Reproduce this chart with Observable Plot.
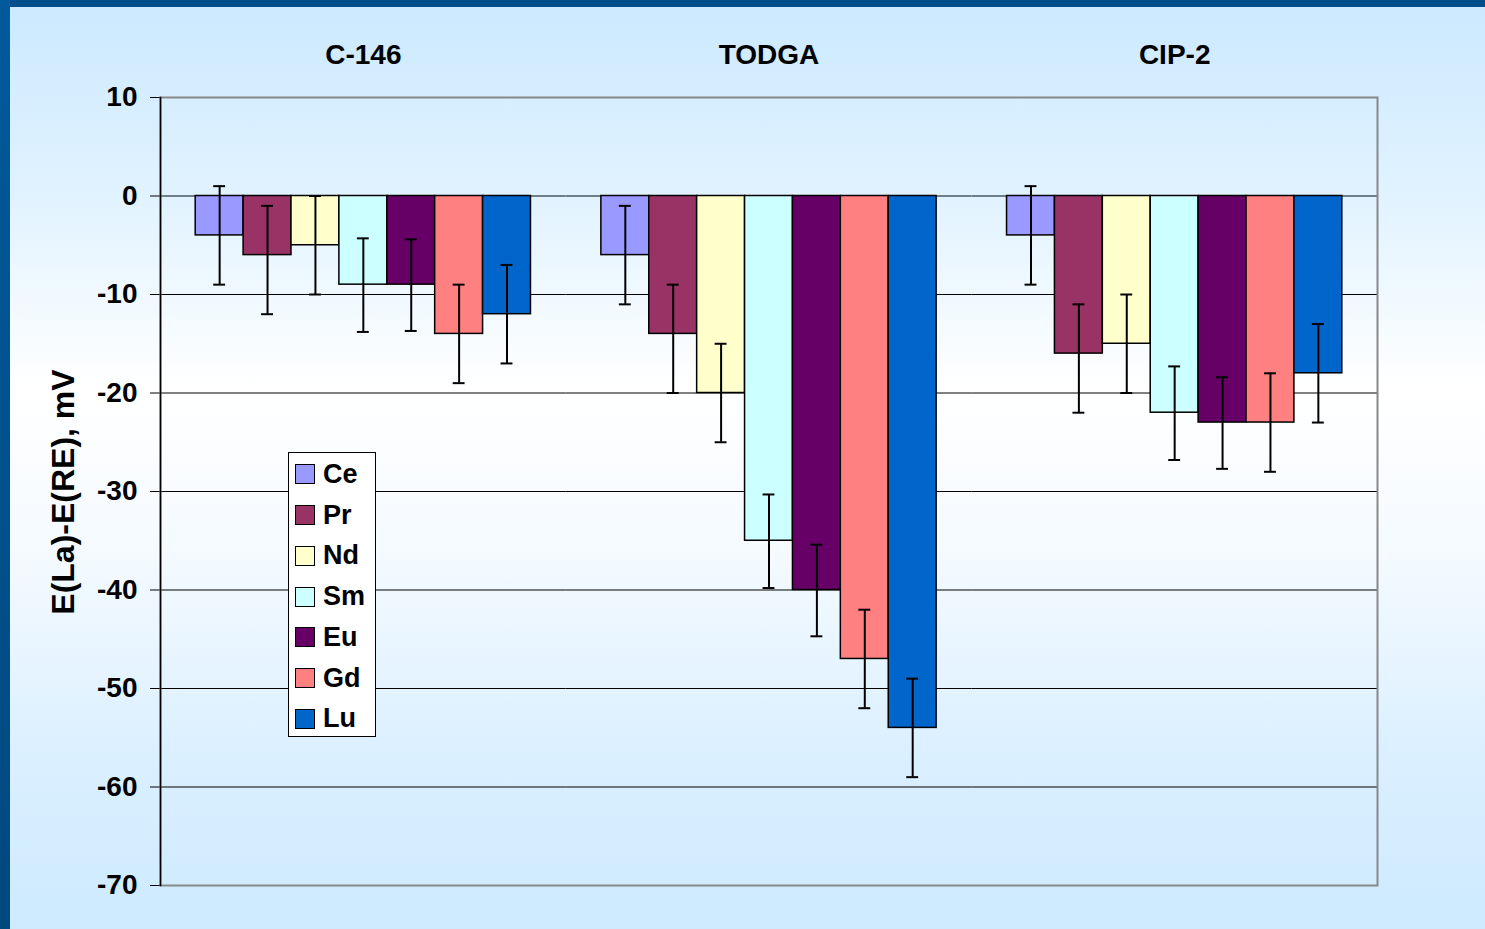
<!DOCTYPE html>
<html><head><meta charset="utf-8">
<script src="https://cdn.jsdelivr.net/npm/d3@7"></script>
<script src="https://cdn.jsdelivr.net/npm/@observablehq/plot@0.6"></script>
<style>
html,body{margin:0;padding:0;}
body{width:1485px;height:929px;overflow:hidden;position:relative;
 background:linear-gradient(to bottom,#cbe9ff 0%,#e2f3ff 22%,#ffffff 42%,#f4faff 60%,#dcf0ff 80%,#cdeaff 100%);
 font-family:"Liberation Sans",Arial,sans-serif;}
#topbar{position:absolute;left:0;top:0;width:1485px;height:7px;background:#004f8a;z-index:3;}
#leftbar{position:absolute;left:0;top:0;width:10px;height:929px;background:linear-gradient(to bottom,#005a9b,#00497f);z-index:3;}
#chart{position:absolute;left:0;top:0;}
#ylabel{position:absolute;left:63px;top:492px;transform:translate(-50%,-50%) rotate(-90deg);font-size:32px;font-weight:bold;white-space:nowrap;color:#000;}
#legend{position:absolute;left:288px;top:452px;width:86px;height:282px;border:1px solid #000;background:#fff;padding-top:1px;box-sizing:content-box;}
#legend .item{height:40.75px;display:flex;align-items:center;font-size:27px;font-weight:bold;color:#000;}
#legend .sw{width:20px;height:20px;box-sizing:border-box;border:1.5px solid #000;margin-left:6px;margin-right:8px;}
</style>
</head><body>
<div id="topbar"></div><div id="leftbar"></div>
<div id="chart"></div>
<div id="ylabel"></div>
<div id="legend"></div>
<script>
const groups = ["C-146", "TODGA", "CIP-2"];
const elements = ["Ce", "Pr", "Nd", "Sm", "Eu", "Gd", "Lu"];
const colors = ["#9999ff", "#993366", "#ffffcc", "#ccffff", "#660066", "#ff8080", "#0066cc"];

const c146 = [-4, -6, -5, -9, -9, -14, -12];
const c146Hi = [1, -1, 0, -4.3, -4.4, -9, -7];
const c146Lo = [-9, -12, -10, -13.8, -13.7, -19, -17];

const todga = [-6, -14, -20, -35, -40, -47, -54];
const todgaHi = [-1, -9, -15, -30.3, -35.4, -42, -49];
const todgaLo = [-11, -20, -25, -39.8, -44.7, -52, -59];

const cip2 = [-4, -16, -15, -22, -23, -23, -18];
const cip2Hi = [1, -11, -10, -17.3, -18.4, -18, -13];
const cip2Lo = [-9, -22, -20, -26.8, -27.7, -28, -23];

const yTicks = [10, 0, -10, -20, -30, -40, -50, -60, -70];
const gridLines = [-10, -20, -30, -40, -50, -60];
const yLabel = "E(La)-E(RE), mV";

const seriesByGroup = {
  "C-146": [c146, c146Hi, c146Lo],
  "TODGA": [todga, todgaHi, todgaLo],
  "CIP-2": [cip2, cip2Hi, cip2Lo]
};
const rows = groups.flatMap(g => elements.map((e, i) => ({
  group: g, element: e,
  value: seriesByGroup[g][0][i], hi: seriesByGroup[g][1][i], lo: seriesByGroup[g][2][i]
})));

const chart = Plot.plot({
  width: 1485, height: 929,
  marginLeft: 160, marginRight: 108, marginTop: 97, marginBottom: 44,
  style: {background: "transparent", fontFamily: "Liberation Sans, Arial, sans-serif", fontWeight: "bold", fontSize: "28px", color: "#000", overflow: "visible"},
  fx: {domain: groups, padding: 0, round: false, label: null, axis: "top", tickSize: 0, tickPadding: 34},
  x: {domain: elements, paddingInner: 0, paddingOuter: 0.735, round: false, axis: null},
  y: {domain: [-70, 10], ticks: yTicks, tickSize: 10, tickPadding: 13, tickFormat: d => String(d), label: null},
  color: {domain: elements, range: colors},
  marks: [
    Plot.ruleY(gridLines, {stroke: "#000", strokeWidth: 1}),
    Plot.ruleY([0], {stroke: "#6f7f8a", strokeWidth: 2}),
    Plot.barY(rows, {fx: "group", x: "element", y: "value", fill: "element", stroke: "#000", strokeWidth: 1.5}),
    Plot.ruleX(rows, {fx: "group", x: "element", y1: "lo", y2: "hi", stroke: "#000", strokeWidth: 2}),
    Plot.tickY(rows, {fx: "group", x: "element", y: "hi", insetLeft: 18, insetRight: 18, stroke: "#000", strokeWidth: 2}),
    Plot.tickY(rows, {fx: "group", x: "element", y: "lo", insetLeft: 18, insetRight: 18, stroke: "#000", strokeWidth: 2}),
    Plot.frame({facet: "super", stroke: "#888", strokeWidth: 2}),
    Plot.frame({facet: "super", anchor: "left", stroke: "#000", strokeWidth: 1.5})
  ]
});
document.getElementById("chart").appendChild(chart);

document.getElementById("ylabel").textContent = yLabel;
const legend = document.getElementById("legend");
elements.forEach((e, i) => {
  const item = document.createElement("div");
  item.className = "item";
  const sw = document.createElement("span");
  sw.className = "sw";
  sw.style.background = colors[i];
  const t = document.createElement("span");
  t.textContent = e;
  item.appendChild(sw); item.appendChild(t);
  legend.appendChild(item);
});
</script>
</body></html>
